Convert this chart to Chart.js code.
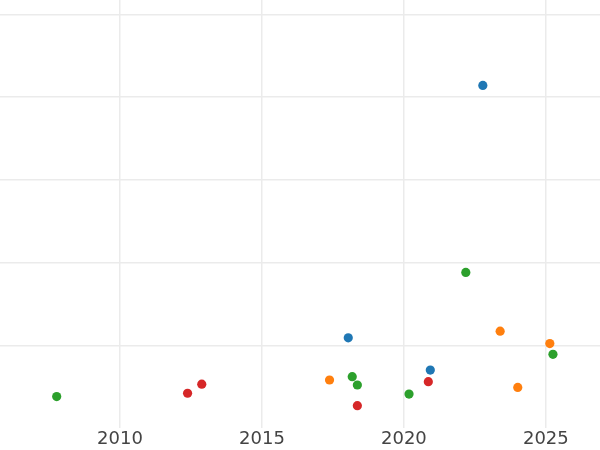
<!DOCTYPE html>
<html>
<head>
<meta charset="utf-8">
<script src="https://cdn.jsdelivr.net/npm/chart.js@4"></script>
<style>
  html, body { margin: 0; padding: 0; background: #fff; }
  canvas { display: block; }
</style>
</head>
<body>
<canvas id="chart" width="600" height="450"></canvas>
<script>
// series: [year, value]
var blueX = [2022.78, 2018.04, 2020.93];
var blueY = [4.14, 1.09, 0.70];
var orangeX = [2017.38, 2023.39, 2025.14, 2024.01];
var orangeY = [0.58, 1.17, 1.02, 0.49];
var greenX = [2007.77, 2018.18, 2018.36, 2020.18, 2022.18, 2025.25];
var greenY = [0.38, 0.62, 0.52, 0.41, 1.88, 0.89];
var redX = [2012.38, 2012.88, 2018.36, 2020.86];
var redY = [0.42, 0.53, 0.27, 0.56];

var xTicks = [2010, 2015, 2020, 2025];
var yTicks = [1, 2, 3, 4, 5];

function pts(xs, ys) {
  return xs.map(function (x, i) { return { x: x, y: ys[i] }; });
}

function series(xs, ys, color) {
  return {
    data: pts(xs, ys),
    backgroundColor: color,
    borderColor: color,
    borderWidth: 0,
    pointRadius: 4.6,
    pointHoverRadius: 4.6
  };
}

var gridColor = '#ebebeb';

new Chart(document.getElementById('chart').getContext('2d'), {
  type: 'scatter',
  data: {
    datasets: [
      series(blueX, blueY, '#1f77b4'),
      series(orangeX, orangeY, '#ff7f0e'),
      series(greenX, greenY, '#2ca02c'),
      series(redX, redY, '#d62728')
    ]
  },
  options: {
    responsive: false,
    animation: false,
    layout: { padding: 0, autoPadding: false },
    plugins: { legend: { display: false }, tooltip: { enabled: false } },
    scales: {
      x: {
        type: 'linear',
        min: 2005.773,
        max: 2026.907,
        afterBuildTicks: function (scale) {
          scale.ticks = xTicks.map(function (v) { return { value: v }; });
        },
        border: { display: false },
        grid: { color: gridColor, lineWidth: 1.5, drawTicks: false },
        ticks: {
          padding: 2,
          color: '#444',
          font: { family: 'DejaVu Sans', size: 18, lineHeight: 1 },
          callback: function (v) { return String(v); }
        }
      },
      y: {
        min: 0,
        max: 5.173,
        afterBuildTicks: function (scale) {
          scale.ticks = yTicks.map(function (v) { return { value: v }; });
        },
        border: { display: false },
        grid: { color: gridColor, lineWidth: 1.5, drawTicks: false },
        ticks: { display: false }
      }
    }
  }
});
</script>
</body>
</html>
